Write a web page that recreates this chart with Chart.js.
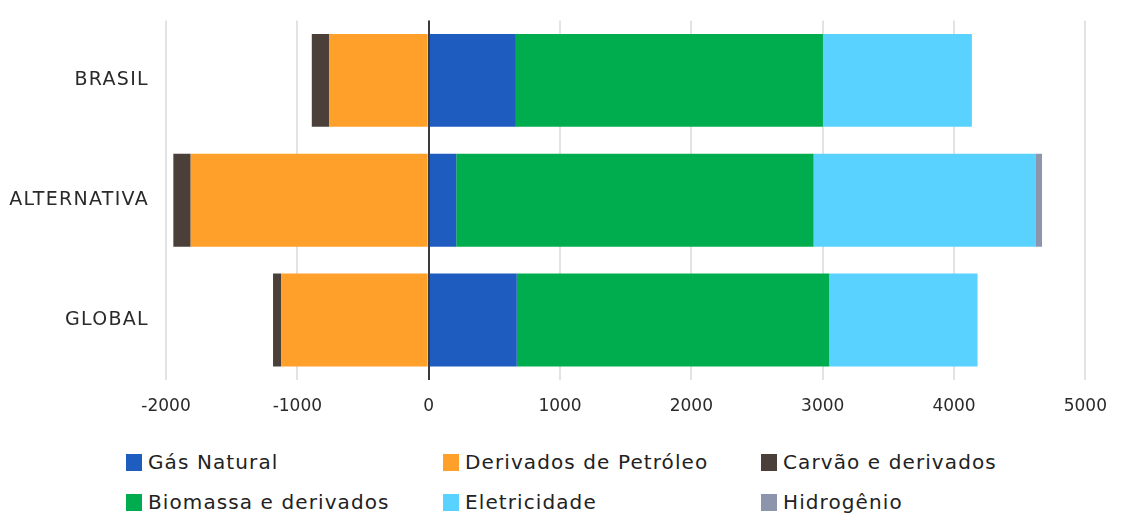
<!DOCTYPE html>
<html>
<head>
<meta charset="utf-8">
<script src="https://cdn.jsdelivr.net/npm/chart.js@4"></script>
<style>
  body { margin: 0; background: #fff; font-family: "DejaVu Sans", sans-serif; }
  #wrap { position: relative; width: 1123px; height: 519px; }
  #chart-box { position: absolute; left: 0; top: 0; width: 1123px; height: 425px; }
  #legend { position: absolute; left: 126px; top: 450px; display: grid;
    grid-template-columns: 317px 318px 300px; row-gap: 16px; }
  .item { display: flex; align-items: center; font-size: 20px; letter-spacing: 1.1px; color: #222; height: 24px; }
  .box { width: 16px; height: 17px; margin-right: 6px; }
</style>
</head>
<body>
<div id="wrap">
  <div id="chart-box"><canvas id="energy-chart"></canvas></div>
  <div id="legend"></div>
</div>
<script>
const categories = ['BRASIL', 'ALTERNATIVA', 'GLOBAL'];
const gasNatural = [664, 210, 671];
const derivadosPetroleo = [-759, -1812, -1124];
const carvao = [-131, -132, -61];
const biomassa = [2338, 2721, 2379];
const eletricidade = [1134, 1693, 1129];
const hidrogenio = [0, 46, 0];
const xTicks = [-2000, -1000, 0, 1000, 2000, 3000, 4000, 5000];

const series = [
  { label: 'Gás Natural', data: gasNatural, color: '#1f5cbf' },
  { label: 'Derivados de Petróleo', data: derivadosPetroleo, color: '#ffa02a' },
  { label: 'Carvão e derivados', data: carvao, color: '#4a3f39' },
  { label: 'Biomassa e derivados', data: biomassa, color: '#00ad4e' },
  { label: 'Eletricidade', data: eletricidade, color: '#5ad2ff' },
  { label: 'Hidrogênio', data: hidrogenio, color: '#8c95ac' }
];

// dark line at zero, drawn over the bars
const zeroLine = {
  id: 'zeroLine',
  afterDatasetsDraw(chart) {
    const x = Math.round(chart.scales.x.getPixelForValue(0));
    const ctx = chart.ctx;
    ctx.save();
    ctx.strokeStyle = '#3a3a3a';
    ctx.lineWidth = 2;
    ctx.beginPath();
    ctx.moveTo(x, chart.chartArea.top);
    ctx.lineTo(x, chart.chartArea.bottom);
    ctx.stroke();
    ctx.restore();
  }
};

// wider tracking on the category labels
const spacedLabels = {
  id: 'spacedLabels',
  beforeDraw(chart) {
    const scale = chart.scales.y;
    if (scale._spaced) return;
    const orig = scale.drawLabels;
    scale.drawLabels = function (area) {
      const c = this.ctx;
      c.save();
      c.letterSpacing = '1.3px';
      orig.call(this, area);
      c.restore();
    };
    scale._spaced = true;
  }
};

const ctx = document.getElementById('energy-chart');
new Chart(ctx, {
  type: 'bar',
  data: {
    labels: categories,
    datasets: series.map(s => ({
      label: s.label,
      data: s.data,
      backgroundColor: s.color,
      borderWidth: 0,
      barPercentage: 0.775,
      categoryPercentage: 1
    }))
  },
  options: {
    indexAxis: 'y',
    responsive: true,
    maintainAspectRatio: false,
    animation: false,
    layout: { padding: { top: 10, right: 35, left: 0, bottom: 0 } },
    plugins: {
      legend: { display: false },
      tooltip: { enabled: false }
    },
    scales: {
      x: {
        stacked: true,
        min: -2000,
        max: 5000,
        afterBuildTicks: axis => { axis.ticks = xTicks.map(v => ({ value: v })); },
        afterFit: axis => { axis.height = 45; },
        grid: { color: '#e3e3e3', lineWidth: 2, drawTicks: false },
        border: { display: false },
        ticks: {
          color: '#2a2a2a',
          padding: 16,
          font: { family: 'DejaVu Sans', size: 17 },
          callback: v => String(v)
        }
      },
      y: {
        stacked: true,
        afterFit: axis => { axis.width = 166; },
        grid: { display: false },
        border: { display: false },
        ticks: {
          color: '#2a2a2a',
          padding: 9,
          font: { family: 'DejaVu Sans', size: 19 }
        }
      }
    }
  },
  plugins: [zeroLine, spacedLabels]
});

const legend = document.getElementById('legend');
series.forEach(s => {
  const el = document.createElement('div');
  el.className = 'item';
  el.innerHTML = '<span class="box" style="background:' + s.color + '"></span>' + s.label;
  legend.appendChild(el);
});
</script>
</body>
</html>
